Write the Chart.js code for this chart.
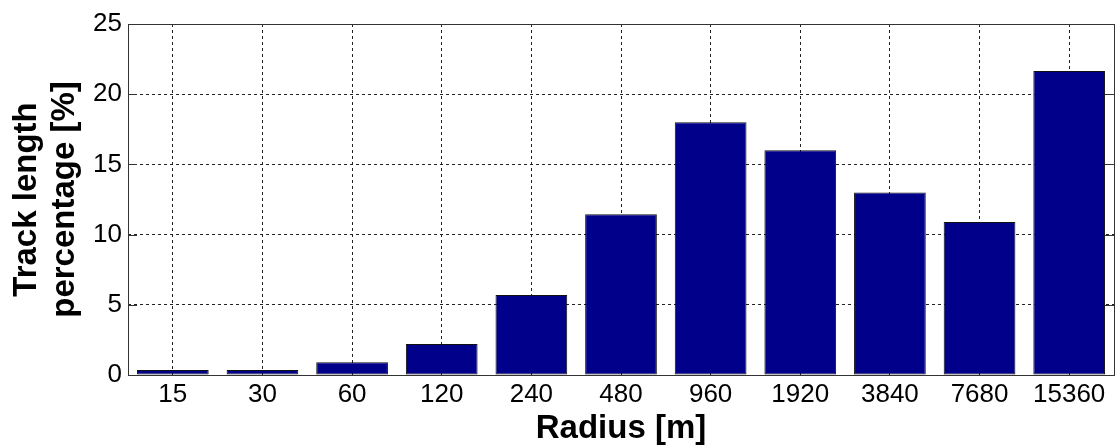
<!DOCTYPE html>
<html>
<head>
<meta charset="utf-8">
<script src="https://cdn.jsdelivr.net/npm/chart.js@4.4.0/dist/chart.umd.min.js"></script>
<style>
  html, body { margin: 0; padding: 0; background: #fff; }
  #wrap { width: 1117px; height: 446px; }
</style>
</head>
<body>
<div id="wrap"><canvas id="grafico"></canvas></div>
<script>
// Raios (m) e percentagem do comprimento da via
const raios = ['15', '30', '60', '120', '240', '480', '960', '1920', '3840', '7680', '15360'];
const percentagem = [0.35, 0.35, 0.9, 2.2, 5.7, 11.45, 18.0, 16.0, 13.0, 10.9, 21.65];
const yTicks = [0, 5, 10, 15, 20, 25];

const fonte = "'Liberation Sans', Arial, sans-serif";

// moldura completa e marcas de escala para dentro (estilo MATLAB)
const moldura = {
  id: 'moldura',
  afterDatasetsDraw(chart) {
    const { ctx, chartArea: a, scales } = chart;
    ctx.save();
    ctx.strokeStyle = '#333';
    ctx.lineWidth = 1;
    ctx.setLineDash([]);
    ctx.beginPath();
    yTicks.forEach(v => {
      const y = Math.round(scales.y.getPixelForValue(v)) + 0.5;
      ctx.moveTo(a.left, y);
      ctx.lineTo(a.left + 9, y);
      ctx.moveTo(a.right, y);
      ctx.lineTo(a.right - 9, y);
    });
    ctx.stroke();
    ctx.strokeRect(Math.round(a.left) + 0.5, Math.round(a.top) + 0.5,
      Math.round(a.right - a.left), Math.round(a.bottom - a.top));
    ctx.restore();
  }
};

const ctx = document.getElementById('grafico').getContext('2d');
new Chart(ctx, {
  type: 'bar',
  data: {
    labels: raios,
    datasets: [{
      data: percentagem,
      backgroundColor: '#00008B',
      borderColor: '#111',
      borderWidth: 1,
      borderSkipped: false,
      barPercentage: 0.8,
      categoryPercentage: 1.0
    }]
  },
  options: {
    responsive: true,
    maintainAspectRatio: false,
    animation: false,
    layout: { padding: { left: 8, right: 3, top: 24, bottom: 0 } },
    plugins: {
      legend: { display: false },
      tooltip: { enabled: false }
    },
    scales: {
      x: {
        afterFit(scale) { scale.height = 71; },
        grid: {
          offset: false,
          drawTicks: false,
          color: '#222',
          lineWidth: 1
        },
        border: { display: false, dash: [3, 3] },
        ticks: {
          padding: 7,
          color: '#000',
          font: { family: fonte, size: 26, lineHeight: 1 }
        },
        title: {
          display: true,
          text: 'Radius [m]',
          color: '#000',
          padding: { top: 0, bottom: 1 },
          font: { family: fonte, size: 33, weight: 'bold', lineHeight: 1 }
        }
      },
      y: {
        min: 0,
        max: 25,
        afterFit(scale) { scale.width = 120; },
        ticks: {
          stepSize: 5,
          padding: 6,
          color: '#000',
          font: { family: fonte, size: 26, lineHeight: 1 }
        },
        grid: {
          drawTicks: false,
          color: '#222',
          lineWidth: 1
        },
        border: { display: false, dash: [3, 3] },
        title: {
          display: true,
          text: ['Track length', 'percentage [%]'],
          color: '#000',
          padding: { top: 0, bottom: 0 },
          font: { family: fonte, size: 33, weight: 'bold', lineHeight: 1.15 }
        }
      }
    }
  },
  plugins: [moldura]
});
</script>
</body>
</html>
